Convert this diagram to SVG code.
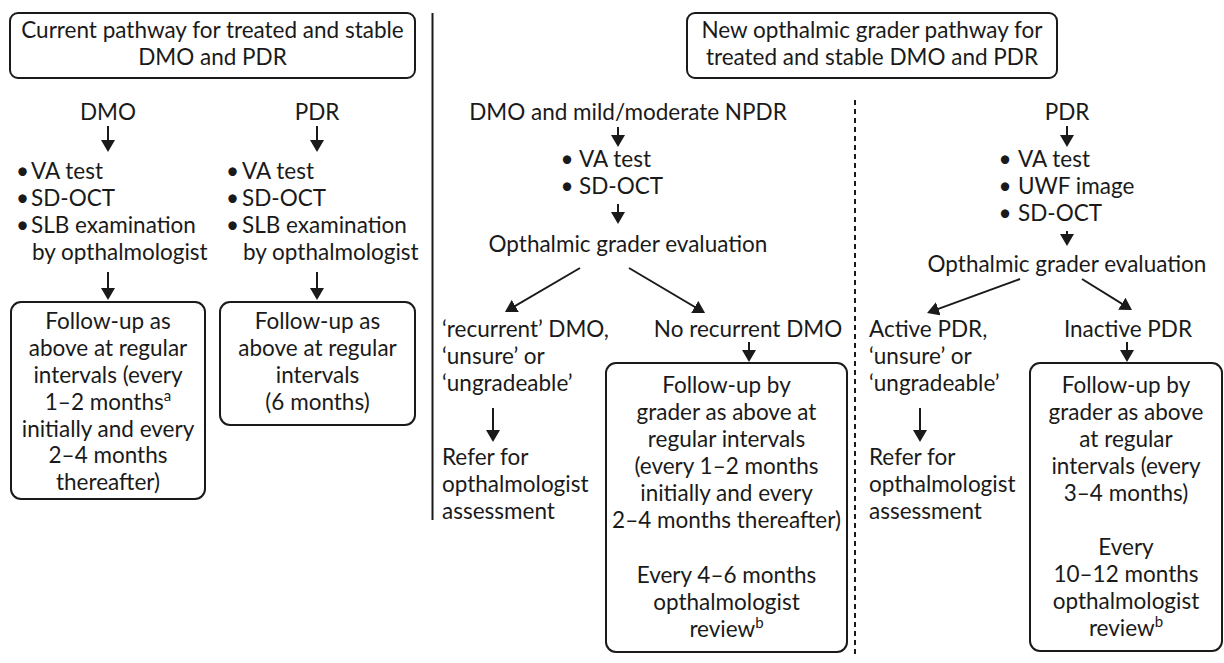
<svg xmlns="http://www.w3.org/2000/svg" width="1224" height="663" viewBox="0 0 1224 663">
<style>
text{font-family:Lato,"Noto Sans","Liberation Sans",sans-serif;font-size:22.5px;fill:#1a1a1a}
.c{text-anchor:middle}
.b{text-anchor:middle}
.box{fill:#fff;stroke:#1a1a1a;stroke-width:2}
.arr{stroke:#1a1a1a;stroke-width:2;fill:none;marker-end:url(#ah)}
.sup{font-size:15px}
</style>
<defs>
<marker id="ah" viewBox="0 0 12 14" refX="8" refY="7" markerWidth="12" markerHeight="14" markerUnits="userSpaceOnUse" orient="auto">
<path d="M0,0 L12,7 L0,14 z" fill="#1a1a1a"/>
</marker>
</defs>
<rect width="1224" height="663" fill="#fff"/>

<g id="dividers">
<line x1="432.5" y1="13" x2="432.5" y2="520" stroke="#1a1a1a" stroke-width="2"/>
<line x1="855" y1="100" x2="855" y2="655" stroke="#1a1a1a" stroke-width="2" stroke-dasharray="5,4"/>
</g>

<g id="header-current">
<rect class="box" x="10" y="13" width="405" height="65" rx="8"/>
<text class="c" x="212.5" y="38">Current pathway for treated and stable</text>
<text class="c" x="212.5" y="65">DMO and PDR</text>
</g>

<g id="header-new">
<rect class="box" x="687" y="13" width="370" height="65" rx="8"/>
<text class="c" x="872" y="38">New opthalmic grader pathway for</text>
<text class="c" x="872" y="65">treated and stable DMO and PDR</text>
</g>

<g id="cur-dmo">
<text class="c" x="108" y="120">DMO</text>
</g>
<g id="cur-dmo-tests">
<text class="b" x="22.5" y="179">•</text><text x="31" y="179">VA test</text>
<text class="b" x="22.5" y="206">•</text><text x="31" y="206">SD-OCT</text>
<text class="b" x="22.5" y="233">•</text><text x="31" y="233">SLB examination</text>
<text x="32" y="260">by opthalmologist</text>
</g>
<g id="cur-dmo-followup">
<rect class="box" x="11" y="302" width="194" height="197" rx="10"/>
<text class="c" x="108" y="329">Follow-up as</text>
<text class="c" x="108" y="356">above at regular</text>
<text class="c" x="108" y="383">intervals (every</text>
<text class="c" x="108" y="410">1–2 months<tspan class="sup" dy="-9">a</tspan></text>
<text class="c" x="108" y="437">initially and every</text>
<text class="c" x="108" y="463">2–4 months</text>
<text class="c" x="108" y="490">thereafter)</text>
</g>

<g id="cur-pdr">
<text class="c" x="317" y="120">PDR</text>
</g>
<g id="cur-pdr-tests">
<text class="b" x="232.5" y="179">•</text><text x="242" y="179">VA test</text>
<text class="b" x="232.5" y="206">•</text><text x="242" y="206">SD-OCT</text>
<text class="b" x="232.5" y="233">•</text><text x="242" y="233">SLB examination</text>
<text x="243" y="260">by opthalmologist</text>
</g>
<g id="cur-pdr-followup">
<rect class="box" x="220" y="302" width="195" height="123" rx="10"/>
<text class="c" x="317.5" y="329">Follow-up as</text>
<text class="c" x="317.5" y="356">above at regular</text>
<text class="c" x="317.5" y="383">intervals</text>
<text class="c" x="317.5" y="410">(6 months)</text>
</g>

<g id="new-dmo">
<text class="c" x="628" y="120">DMO and mild/moderate NPDR</text>
</g>
<g id="new-dmo-tests">
<text class="b" x="567" y="167">•</text><text x="579" y="167">VA test</text>
<text class="b" x="567" y="194">•</text><text x="579" y="194">SD-OCT</text>
</g>
<g id="new-dmo-eval">
<text class="c" x="628" y="252">Opthalmic grader evaluation</text>
</g>
<g id="new-dmo-recurrent">
<text x="442" y="337">‘recurrent’ DMO,</text>
<text x="442" y="364">‘unsure’ or</text>
<text x="442" y="391">‘ungradeable’</text>
</g>
<g id="new-dmo-refer">
<text x="442" y="465">Refer for</text>
<text x="442" y="492">opthalmologist</text>
<text x="442" y="519">assessment</text>
</g>
<g id="new-dmo-norecurrent">
<text class="c" x="748" y="337">No recurrent DMO</text>
</g>
<g id="new-dmo-followup">
<rect class="box" x="606" y="363" width="241" height="289" rx="10"/>
<text class="c" x="726.5" y="393">Follow-up by</text>
<text class="c" x="726.5" y="420">grader as above at</text>
<text class="c" x="726.5" y="447">regular intervals</text>
<text class="c" x="726.5" y="474">(every 1–2 months</text>
<text class="c" x="726.5" y="501">initially and every</text>
<text class="c" x="726.5" y="528">2–4 months thereafter)</text>
<text class="c" x="726.5" y="583">Every 4–6 months</text>
<text class="c" x="726.5" y="610">opthalmologist</text>
<text class="c" x="726.5" y="637">review<tspan class="sup" dy="-9">b</tspan></text>
</g>

<g id="new-pdr">
<text class="c" x="1067" y="120">PDR</text>
</g>
<g id="new-pdr-tests">
<text class="b" x="1005" y="167">•</text><text x="1018" y="167">VA test</text>
<text class="b" x="1005" y="194">•</text><text x="1018" y="194">UWF image</text>
<text class="b" x="1005" y="221">•</text><text x="1018" y="221">SD-OCT</text>
</g>
<g id="new-pdr-eval">
<text class="c" x="1067" y="272">Opthalmic grader evaluation</text>
</g>
<g id="new-pdr-active">
<text x="869" y="337">Active PDR,</text>
<text x="869" y="364">‘unsure’ or</text>
<text x="869" y="391">‘ungradeable’</text>
</g>
<g id="new-pdr-refer">
<text x="869" y="465">Refer for</text>
<text x="869" y="492">opthalmologist</text>
<text x="869" y="519">assessment</text>
</g>
<g id="new-pdr-inactive">
<text class="c" x="1128" y="337">Inactive PDR</text>
</g>
<g id="new-pdr-followup">
<rect class="box" x="1030" y="363" width="192" height="288" rx="10"/>
<text class="c" x="1126" y="393">Follow-up by</text>
<text class="c" x="1126" y="420">grader as above</text>
<text class="c" x="1126" y="447">at regular</text>
<text class="c" x="1126" y="474">intervals (every</text>
<text class="c" x="1126" y="501">3–4 months)</text>
<text class="c" x="1126" y="555">Every</text>
<text class="c" x="1126" y="582">10–12 months</text>
<text class="c" x="1126" y="609">opthalmologist</text>
<text class="c" x="1126" y="636">review<tspan class="sup" dy="-9">b</tspan></text>
</g>

<g id="connectors">
<line class="arr" x1="108" y1="126" x2="108" y2="148"/>
<line class="arr" x1="317" y1="126" x2="317" y2="148"/>
<line class="arr" x1="108" y1="272" x2="108" y2="296"/>
<line class="arr" x1="317" y1="272" x2="317" y2="296"/>
<line class="arr" x1="618" y1="127" x2="618" y2="143"/>
<line class="arr" x1="618" y1="204" x2="618" y2="220"/>
<line class="arr" x1="580" y1="268" x2="508.4" y2="310"/>
<line class="arr" x1="629" y1="268" x2="701.6" y2="311"/>
<line class="arr" x1="749" y1="342" x2="749" y2="358"/>
<line class="arr" x1="493" y1="408" x2="493" y2="438"/>
<line class="arr" x1="1067" y1="126" x2="1067" y2="143"/>
<line class="arr" x1="1067" y1="231" x2="1067" y2="242"/>
<line class="arr" x1="1020" y1="279" x2="930.8" y2="311.6"/>
<line class="arr" x1="1082" y1="279" x2="1128.6" y2="307.9"/>
<line class="arr" x1="1127" y1="342" x2="1127" y2="358"/>
<line class="arr" x1="920" y1="408" x2="920" y2="438"/>
</g>
</svg>
